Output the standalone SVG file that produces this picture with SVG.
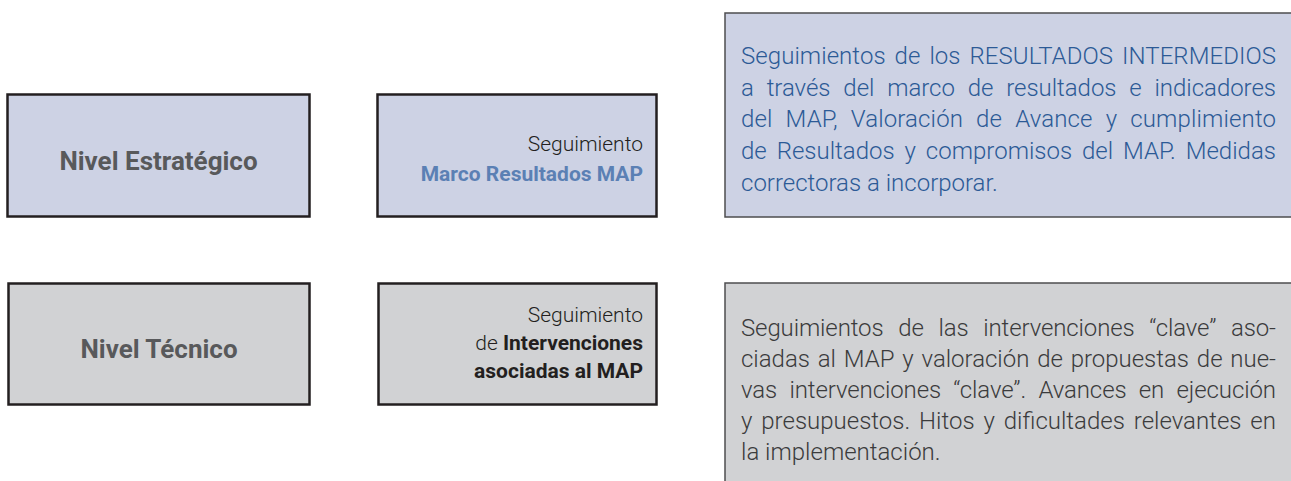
<svg xmlns="http://www.w3.org/2000/svg" width="1291" height="481" viewBox="0 0 1291 481">
  <style>
    .t { font-family: Roboto, "Liberation Sans", sans-serif; }
    .box-strat { fill: #cdd2e4; stroke: #231f20; stroke-width: 2.5; }
    .box-tec { fill: #d1d2d4; stroke: #231f20; stroke-width: 2.5; }
    .desc-strat { fill: #cdd2e4; stroke: #4d4d4f; stroke-width: 1.5; }
    .desc-tec { fill: #d1d2d4; stroke: #4d4d4f; stroke-width: 1.5; }
    .title { font-size: 26px; font-weight: 700; fill: #58595b; text-anchor: middle; }
    .seg { font-size: 21px; font-weight: 300; fill: #231f20; text-anchor: end; }
    .segb { font-weight: 700; }
    .blue { fill: #5b80b4; }
    .desc { font-size: 24px; font-weight: 300; }
    .desc-blue { fill: #2c5a96; }
    .desc-gray { fill: #3b3b3c; }
  </style>
  <rect width="1291" height="481" fill="#ffffff"/>
  <g id="connectors"/>

  <g id="nivel-estrategico">
    <rect class="box-strat" x="7.5" y="94.5" width="302" height="122"/>
    <text class="t title" x="158.5" y="170">Nivel Estratégico</text>
  </g>

  <g id="seguimiento-marco">
    <rect class="box-strat" x="377.5" y="94.5" width="279" height="122"/>
    <text class="t seg" x="643" y="151">Seguimiento</text>
    <text class="t seg segb blue" x="643" y="181">Marco Resultados MAP</text>
  </g>

  <g id="desc-estrategico">
    <rect class="desc-strat" x="725" y="13" width="600" height="204"/>
    <text class="t desc desc-blue">
      <tspan x="741" y="64" word-spacing="3" textLength="535" lengthAdjust="spacing">Seguimientos de los RESULTADOS INTERMEDIOS</tspan>
      <tspan x="741" y="96" word-spacing="7" textLength="535" lengthAdjust="spacing">a través del marco de resultados e indicadores</tspan>
      <tspan x="741" y="127" word-spacing="7" textLength="535" lengthAdjust="spacing">del MAP, Valoración de Avance y cumplimiento</tspan>
      <tspan x="741" y="159" word-spacing="4" textLength="535" lengthAdjust="spacing">de Resultados y compromisos del MAP. Medidas</tspan>
      <tspan x="741" y="191">correctoras a incorporar.</tspan>
    </text>
  </g>

  <g id="nivel-tecnico">
    <rect class="box-tec" x="8.5" y="283.5" width="301" height="121"/>
    <text class="t title" x="159" y="358">Nivel Técnico</text>
  </g>

  <g id="seguimiento-intervenciones">
    <rect class="box-tec" x="378.5" y="283.5" width="278" height="121"/>
    <text class="t seg" x="643" y="322">Seguimiento</text>
    <text class="t seg" x="643" y="350">de <tspan class="segb">Intervenciones</tspan></text>
    <text class="t seg segb" x="643" y="378">asociadas al MAP</text>
  </g>

  <g id="desc-tecnico">
    <rect class="desc-tec" x="725" y="283" width="600" height="250"/>
    <text class="t desc desc-gray">
      <tspan x="741" y="336" word-spacing="9" textLength="535" lengthAdjust="spacing">Seguimientos de las intervenciones “clave” aso-</tspan>
      <tspan x="741" y="367" word-spacing="2" textLength="535" lengthAdjust="spacing">ciadas al MAP y valoración de propuestas de nue-</tspan>
      <tspan x="741" y="398" word-spacing="6.5" textLength="535" lengthAdjust="spacing">vas intervenciones “clave”. Avances en ejecución</tspan>
      <tspan x="741" y="429" word-spacing="3" textLength="535" lengthAdjust="spacing">y presupuestos. Hitos y dificultades relevantes en</tspan>
      <tspan x="741" y="460">la implementación.</tspan>
    </text>
  </g>
</svg>
